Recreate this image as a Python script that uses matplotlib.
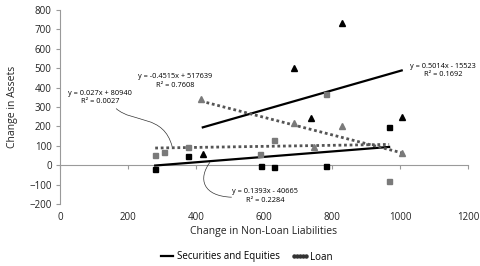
import numpy as np
import matplotlib
matplotlib.use("Agg")
from matplotlib import pyplot as plt
from matplotlib.lines import Line2D
from matplotlib.patches import PathPatch
from matplotlib.path import Path

plt.rcParams['font.family'] = ['Open Sans', 'DejaVu Sans']

# black triangles
tri_black_x = [420, 688, 738, 829, 1005]
tri_black_y = [57, 500, 242, 731, 247]
# gray triangles
tri_gray_x = [415, 688, 748, 829, 1005]
tri_gray_y = [340, 216, 95, 201, 62]
# black squares
sq_black_x = [280, 376, 590, 629, 782, 968]
sq_black_y = [-20, 46, -5, -10, -5, 196]
# gray squares
sq_gray_x = [280, 305, 376, 588, 629, 782, 968]
sq_gray_y = [52, 67, 93, 57, 129, 366, -82]

# trend lines (slope, intercept in plot units)
trend_tri_black = (0.5014, -15.523)
trend_tri_gray = (-0.4515, 517.639)
trend_sq_black = (0.1393, -40.665)
trend_sq_gray = (0.027, 80.940)

fig = plt.figure(figsize=(4.81, 2.66), dpi=100)
ax = fig.add_axes([60 / 481, 1 - 204 / 266, 408 / 481, 194 / 266])

gray = '#7a7a7a'
axis_col = '#9a9a9a'


def trend(xs, coef):
    x = np.array([min(xs), max(xs)])
    return x, coef[0] * x + coef[1]


x, y = trend(tri_black_x, trend_tri_black)
ax.plot(x, y, color='black', lw=1.6, zorder=2)
x, y = trend(sq_black_x, trend_sq_black)
ax.plot(x, y, color='black', lw=1.6, zorder=2)
x, y = trend(tri_gray_x, trend_tri_gray)
ax.plot(x, y, color='#555555', lw=2.0, ls=(0, (1, 1)), zorder=2)
x, y = trend(sq_gray_x, trend_sq_gray)
ax.plot(x, y, color='#555555', lw=2.0, ls=(0, (1, 1)), zorder=2)

ax.plot(tri_black_x, tri_black_y, '^', color='black', ms=4.2, ls='none', zorder=3)
ax.plot(tri_gray_x, tri_gray_y, '^', color=gray, ms=4.2, ls='none', zorder=3)
ax.plot(sq_black_x, sq_black_y, 's', color='black', ms=3.6, ls='none', zorder=3)
ax.plot(sq_gray_x, sq_gray_y, 's', color=gray, ms=3.6, ls='none', zorder=3)

ax.set_xlim(0, 1200)
ax.set_ylim(-200, 800)
ax.set_xticks(range(0, 1201, 200))
ax.set_yticks(range(-200, 801, 100))
for s in ['top', 'right', 'bottom']:
    ax.spines[s].set_visible(False)
ax.spines['left'].set_color(axis_col)
ax.tick_params(axis='y', colors=axis_col, labelcolor='#222222', labelsize=7, length=3, pad=3)
ax.tick_params(axis='x', length=0, labelcolor='#222222', labelsize=7, pad=6)

zero_ax = ax.secondary_xaxis(0.2)
zero_ax.set_xticks(range(0, 1201, 200))
zero_ax.set_xticklabels([])
zero_ax.spines['bottom'].set_color(axis_col)
zero_ax.tick_params(axis='x', colors=axis_col, length=3)

ax.set_xlabel('Change in Non-Loan Liabilities', fontsize=7.5, color='#222222', labelpad=2)
ax.set_ylabel('Change in Assets', fontsize=7.5, color='#222222', labelpad=8)

fs = 5.3
ax.text(338, 433, 'y = -0.4515x + 517639\nR² = 0.7608', fontsize=fs, ha='center', va='center', linespacing=1.3)
ax.text(118, 348, 'y = 0.027x + 80940\nR² = 0.0027', fontsize=fs, ha='center', va='center', linespacing=1.3)
ax.text(1126, 487, 'y = 0.5014x - 15523\nR² = 0.1692', fontsize=fs, ha='center', va='center', linespacing=1.3)
ax.text(603, -160, 'y = 0.1393x - 40665\nR² = 0.2284', fontsize=fs, ha='center', va='center', linespacing=1.3)

# curved leader lines
leaders = [
    [(165, 292), (215, 215), (305, 265), (330, 95)],
    [(441, 15), (405, -70), (420, -160), (505, -165)],
]
for pts in leaders:
    path = Path(pts, [Path.MOVETO, Path.CURVE4, Path.CURVE4, Path.CURVE4])
    ax.add_patch(PathPatch(path, fill=False, lw=0.5, color='#333333'))

handles = [Line2D([], [], color='black', lw=1.6),
           Line2D([], [], color='#333333', ls='none', marker='o', ms=2.2)]
fig.legend(handles, ['Securities and Equities', 'Loan'], loc='center', bbox_to_anchor=(0.51, 1 - 257 / 266),
           ncol=2, frameon=False, fontsize=7, handlelength=1.8, handletextpad=0.1, columnspacing=1.2,
           numpoints=5)

fig.savefig('out.png', dpi=100)
